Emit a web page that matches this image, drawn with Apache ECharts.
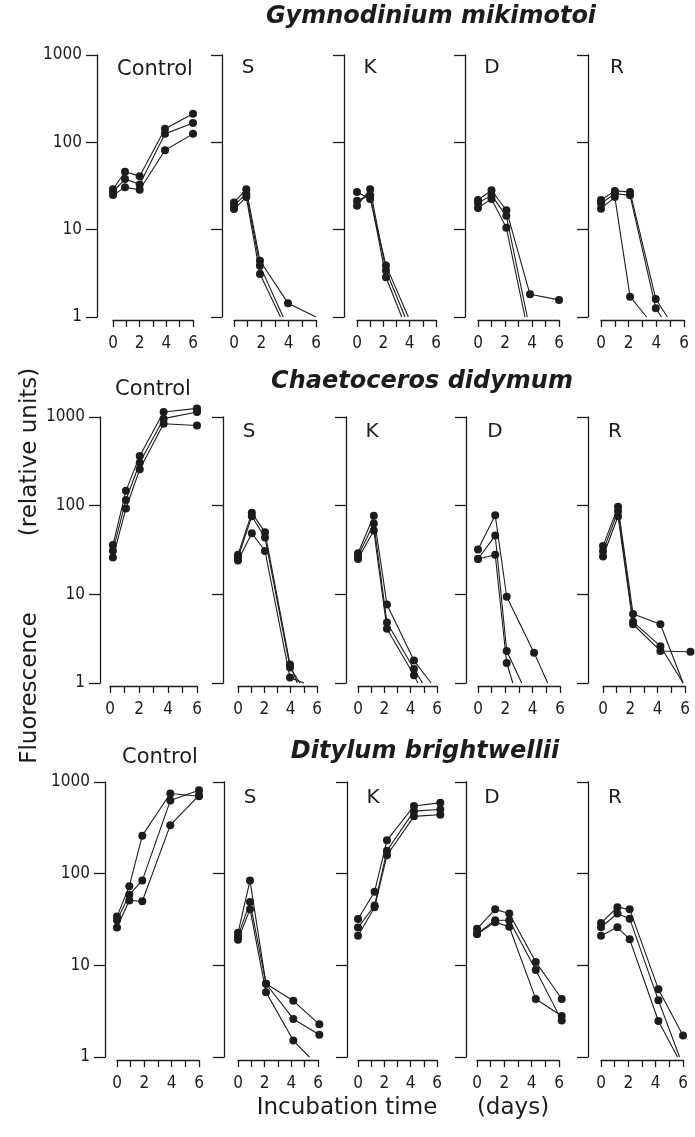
<!DOCTYPE html>
<html>
<head>
<meta charset="utf-8">
<script src="https://cdn.jsdelivr.net/npm/echarts@6/dist/echarts.min.js"></script>
<style>
html,body{margin:0;padding:0;background:#fff;}
#chart{width:695px;height:1137px;}
</style>
</head>
<body>
<div id="chart"></div>
<script>
// ---------------- DATA ----------------
const speciesNames = ['Gymnodinium mikimotoi', 'Chaetoceros didymum', 'Ditylum brightwellii'];
const treatmentLabels = ['Control', 'S', 'K', 'D', 'R'];
const yTickLabels = ['1', '10', '100', '1000'];
const xTickLabels = ['0', '2', '4', '6'];
const yTitleParts = ['Fluorescence', '(relative units)'];
const xTitleParts = ['Incubation time', '(days)'];

// each panel: three replicate cultures, points [day, fluorescence]; value 1 = line reaches the axis floor
const gymControl = [
  [[0,29],[0.9,46],[2,41],[3.9,143],[6,213]],
  [[0,27],[0.9,38],[2,33],[3.9,125],[6,166]],
  [[0,25],[0.9,30.5],[2,28.6],[3.9,81],[6,125]]
];
const gymS = [
  [[0,20.5],[0.9,29],[1.9,4.4],[3.95,1.44],[6,1]],
  [[0,18.8],[0.9,25.8],[1.9,3.85],[3.6,1]],
  [[0,17.2],[0.9,23.6],[1.9,3.1],[3.4,1]]
];
const gymK = [
  [[0,27],[1,22.5],[2.2,3.9],[3.9,1]],
  [[0,18.8],[1,29],[2.2,3.4],[3.65,1]],
  [[0,21.5],[1,24.7],[2.2,2.85],[3.4,1]]
];
const gymD = [
  [[0,21.9],[1,28.3],[2.1,16.7],[3.85,1.82],[6,1.57]],
  [[0,20.2],[1,24.7],[2.1,14.4],[3.65,1]],
  [[0,17.7],[1,22.5],[2.1,10.5],[3.48,1]]
];
const gymR = [
  [[0,21.9],[1,27.8],[2.1,27],[3.96,1.61],[4.8,1]],
  [[0,19.9],[1,25.9],[2.1,24.7],[3.96,1.26],[4.37,1]],
  [[0,17.4],[1,23.6],[2.1,1.71],[3.3,1]]
];

const chaControl = [
  [[0.2,36],[1.1,147],[2.05,364],[3.7,1140],[6,1250]],
  [[0.2,31],[1.1,116],[2.05,305],[3.7,958],[6,1140]],
  [[0.2,26],[1.1,93],[2.05,257],[3.7,840],[6,803]]
];
const chaS = [
  [[0,28],[1.05,83],[2.05,50],[3.95,1.62],[4.5,1]],
  [[0,26],[1.05,76],[2.05,43.7],[3.95,1.5],[4.7,1]],
  [[0,24],[1.05,48.8],[2.05,30.8],[3.95,1.15],[5.0,1]]
];
const chaK = [
  [[0,29],[1.2,77],[2.2,7.7],[4.25,1.79],[5.55,1]],
  [[0,27],[1.2,63],[2.2,4.8],[4.25,1.44],[4.9,1]],
  [[0,25],[1.2,52.5],[2.2,4.1],[4.25,1.22],[4.55,1]]
];
const chaD = [
  [[0,32],[1.26,78],[2.1,9.4],[4.1,2.2],[5.1,1]],
  [[0,25],[1.26,46],[2.1,2.3],[3.2,1]],
  [[0,25],[1.26,28],[2.1,1.68],[2.55,1]]
];
const chaR = [
  [[0,35],[1.1,97.5],[2.2,6.0],[4.2,4.6],[5.86,1]],
  [[0,30.6],[1.1,87],[2.2,4.9],[4.2,2.6],[5.86,1]],
  [[0,26.7],[1.1,76],[2.2,4.6],[4.2,2.3],[6.4,2.25]]
];

const ditControl = [
  [[0,34],[0.9,73],[1.85,260],[3.9,750],[6,700]],
  [[0,31],[0.9,59],[1.85,84],[3.9,627],[6,815]],
  [[0,25.8],[0.9,51],[1.85,50],[3.9,338],[6,715]]
];
const ditS = [
  [[0,22.6],[0.9,84],[2.1,6.3],[4.15,4.1],[6.1,2.27]],
  [[0,20.8],[0.9,49],[2.1,6.3],[4.15,2.6],[6.1,1.75]],
  [[0,19],[0.9,41],[2.1,5.1],[4.15,1.51],[5.35,1]]
];
const ditK = [
  [[0,32],[1.26,63.5],[2.2,231],[4.25,547],[6.25,595]],
  [[0,25.8],[1.26,45],[2.2,178],[4.25,481],[6.25,502]],
  [[0,21],[1.26,43],[2.2,159],[4.25,422],[6.25,440]]
];
const ditD = [
  [[0,25],[1.33,40.8],[2.36,36.8],[4.3,10.9],[6.2,4.3]],
  [[0,22],[1.33,31],[2.36,31],[4.3,8.9],[6.2,2.5]],
  [[0,22],[1.33,29.6],[2.36,26.4],[4.3,4.3],[6.2,2.8]]
];
const ditR = [
  [[0,28.9],[1.2,43],[2.1,40.8],[4.2,5.5],[6,1.72]],
  [[0,26],[1.2,36.8],[2.1,32.3],[4.2,4.15],[5.75,1]],
  [[0,21],[1.2,26],[2.1,19.2],[4.2,2.47],[5.6,1]]
];

const panelData = [
  [gymControl, gymS, gymK, gymD, gymR],
  [chaControl, chaS, chaK, chaD, chaR],
  [ditControl, ditS, ditK, ditD, ditR]
];

// ---------------- LAYOUT ----------------
const rowLayout = [
  {top:55,  bottom:317,  yAxisX:[97,222,344,465,588],  x0:[113,234,357,478,601], x6:[193,316,436,559,684],
   titleY:17, titleX:431, ctrlY:70, ctrlX:155, labY:68},
  {top:417, bottom:683,  yAxisX:[100,223,346,466,588], x0:[110,238,358,478,603], x6:[197,317,437,560,685],
   titleY:382, titleX:422, ctrlY:390, ctrlX:153, labY:432},
  {top:782, bottom:1057, yAxisX:[105,224,347,466,588], x0:[117,238,358,477,601], x6:[199,318,437,559,683],
   titleY:752, titleX:425, ctrlY:758, ctrlX:160, labY:798}
];
const labelX = [[0,248,370,492,617],[0,249,372,495,615],[0,250,373,492,615]];

const INK = '#1c1c1c';
const NUMFONT = "'Liberation Sans Narrow','DejaVu Sans Condensed','Roboto Condensed',sans-serif";
const TXTFONT = "'DejaVu Sans','Liberation Sans',sans-serif";

const grids = [], xAxes = [], yAxes = [], series = [], graphics = [];
let idx = 0;
rowLayout.forEach((L, r) => {
  for (let c = 0; c < 5; c++) {
    grids.push({left: L.x0[c], top: L.top, width: L.x6[c] - L.x0[c], height: L.bottom - L.top});
    xAxes.push({
      type:'value', gridIndex: idx, min:0, max:6, interval:1, position:'bottom', offset:3,
      axisLine:{show:true, onZero:false, lineStyle:{color:INK, width:1.3}},
      axisTick:{show:true, inside:false, length:7, lineStyle:{color:INK, width:1.3}},
      axisLabel:{show:true, margin:15, color:INK, fontSize:17, fontFamily:NUMFONT,
        formatter: v => (v % 2 === 0 ? xTickLabels[v / 2] : '')},
      splitLine:{show:false}
    });
    yAxes.push({
      type:'log', logBase:10, gridIndex: idx, min:1, max:1000, position:'left',
      offset: L.x0[c] - L.yAxisX[c],
      axisLine:{show:true, onZero:false, lineStyle:{color:INK, width:1.3}},
      axisTick:{show:true, inside:false, length:11, lineStyle:{color:INK, width:1.3}},
      axisLabel:{show: c === 0, margin:15, color:INK, fontSize:17, fontFamily:NUMFONT,
        formatter: v => yTickLabels[Math.round(Math.log10(v))]},
      splitLine:{show:false}
    });
    panelData[r][c].forEach(line => {
      series.push({
        type:'line', xAxisIndex: idx, yAxisIndex: idx, clip:false,
        symbol:'circle', symbolSize:8, animation:false,
        lineStyle:{color:INK, width:1.1}, itemStyle:{color:INK},
        data: line.map(p => (p[1] === 1 ? {value:p, symbol:'none'} : {value:p}))
      });
    });
    if (c > 0) {
      graphics.push({type:'text', style:{text: treatmentLabels[c], x: labelX[r][c], y: L.labY,
        fontSize:20, fontFamily:TXTFONT, fill:INK, textAlign:'center', textVerticalAlign:'middle'}});
    }
    idx++;
  }
  graphics.push({type:'text', style:{text: treatmentLabels[0], x: L.ctrlX, y: L.ctrlY,
    fontSize:21, fontFamily:TXTFONT, fill:INK, textAlign:'center', textVerticalAlign:'middle'}});
  graphics.push({type:'text', style:{text: speciesNames[r], x: L.titleX, y: L.titleY,
    fontSize:24, fontWeight:'bold', fontStyle:'italic', fontFamily:TXTFONT, fill:INK,
    textAlign:'center', textVerticalAlign:'middle'}});
});
// axis titles
graphics.push({type:'text', rotation: Math.PI/2, x:30, y:688, style:{text: yTitleParts[0], x:0, y:0,
  fontSize:23, fontFamily:TXTFONT, fill:INK, textAlign:'center', textVerticalAlign:'middle'}});
graphics.push({type:'text', rotation: Math.PI/2, x:30, y:452, style:{text: yTitleParts[1], x:0, y:0,
  fontSize:23, fontFamily:TXTFONT, fill:INK, textAlign:'center', textVerticalAlign:'middle'}});
graphics.push({type:'text', style:{text: xTitleParts[0], x:347, y:1108,
  fontSize:23, fontFamily:TXTFONT, fill:INK, textAlign:'center', textVerticalAlign:'middle'}});
graphics.push({type:'text', style:{text: xTitleParts[1], x:513, y:1108,
  fontSize:23, fontFamily:TXTFONT, fill:INK, textAlign:'center', textVerticalAlign:'middle'}});

const chart = echarts.init(document.getElementById('chart'), null, {renderer:'canvas'});
chart.setOption({
  backgroundColor:'#ffffff',
  animation:false,
  grid: grids, xAxis: xAxes, yAxis: yAxes, series: series, graphic: graphics
});
</script>
</body>
</html>
